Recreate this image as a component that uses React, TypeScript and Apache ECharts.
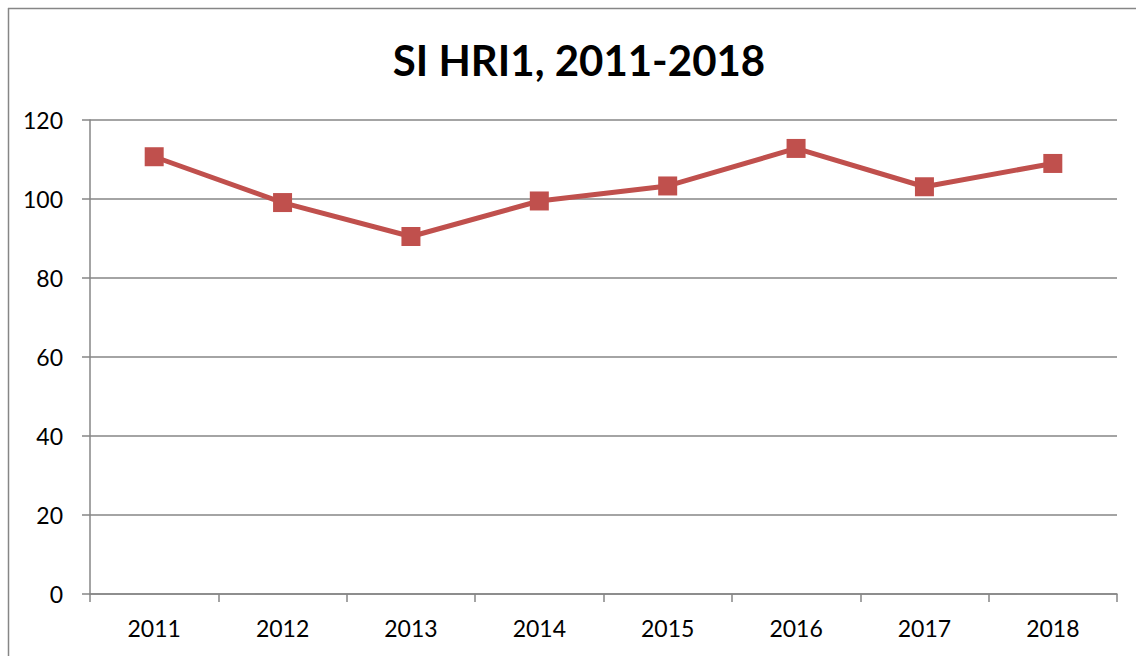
import React, { useEffect, useRef } from "react";
import * as echarts from "echarts";

const titleText = "SI HRI1, 2011-2018";
const years = ["2011", "2012", "2013", "2014", "2015", "2016", "2017", "2018"];
const values = [110.7, 99.1, 90.5, 99.5, 103.3, 112.8, 103.1, 109.0];

export default function App() {
  const ref = useRef<HTMLDivElement>(null);
  useEffect(() => {
    if (!ref.current) return;
    const chart = echarts.init(ref.current, undefined, { renderer: "svg" });
    const gray = "#868686";
    chart.setOption({
      animation: false,
      backgroundColor: "#ffffff",
      title: {
        text: titleText,
        left: 574,
        top: 34,
        textAlign: "center",
        textStyle: {
          fontFamily: "Lato",
          fontWeight: "bold",
          fontSize: 42,
          color: "#000000",
        },
      },
      graphic: [
        {
          type: "line",
          shape: { x1: 8.5, y1: 8, x2: 8.5, y2: 660 },
          style: { stroke: gray, lineWidth: 1.5 },
        },
        {
          type: "line",
          shape: { x1: 8, y1: 8.5, x2: 1140, y2: 8.5 },
          style: { stroke: gray, lineWidth: 1.5 },
        },
      ],
      grid: { left: 90, top: 120, right: 19, bottom: 62, containLabel: false },
      xAxis: {
        type: "category",
        data: years,
        boundaryGap: true,
        axisLine: { lineStyle: { color: gray, width: 1.5 } },
        axisTick: { show: true, length: 8, alignWithLabel: false, lineStyle: { color: gray, width: 1.5 } },
        axisLabel: { fontFamily: "Lato", fontSize: 23, color: "#000000", margin: 22 },
        splitLine: { show: false },
      },
      yAxis: {
        type: "value",
        min: 0,
        max: 120,
        interval: 20,
        axisLine: { show: true, lineStyle: { color: gray, width: 1.5 } },
        axisTick: { show: true, length: 8, lineStyle: { color: gray, width: 1.5 } },
        axisLabel: { fontFamily: "Lato", fontSize: 23, color: "#000000", margin: 27 },
        splitLine: { show: true, lineStyle: { color: gray, width: 1.5 } },
      },
      series: [
        {
          type: "line",
          data: values,
          symbol: "rect",
          symbolSize: 19,
          lineStyle: { color: "#C0504D", width: 5 },
          itemStyle: { color: "#C0504D" },
        },
      ],
    });
    return () => chart.dispose();
  }, []);
  return (
    <div
      ref={ref}
      style={{ position: "fixed", left: 0, top: 0, width: 1136, height: 656 }}
    />
  );
}
